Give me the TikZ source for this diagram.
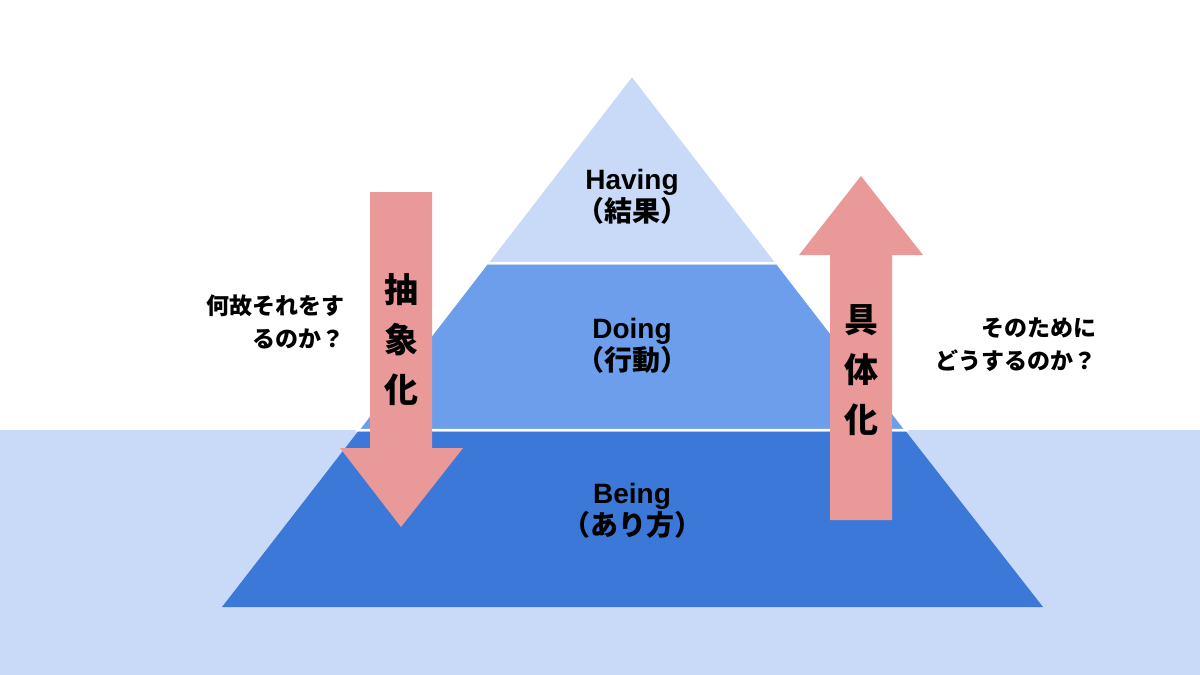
\documentclass[tikz,border=0pt]{standalone}
\usepackage{fontspec}
\setmainfont{Noto Sans CJK JP}
\newfontfamily\lat{Liberation Sans}
\definecolor{sea}{HTML}{C9DAF8}
\definecolor{tA}{HTML}{C9DAF8}
\definecolor{tB}{HTML}{6D9EEB}
\definecolor{tC}{HTML}{3C78D8}
\definecolor{arr}{HTML}{EA9999}
\begin{document}
\begin{tikzpicture}[x=1pt,y=-1pt,
  lbl/.style={font=\fontsize{28}{32}\selectfont\bfseries, align=center, inner sep=0},
  big/.style={font=\fontsize{34}{38}\selectfont\bfseries, inner sep=0},
  side/.style={font=\fontsize{23}{33}\selectfont\bfseries, inner sep=0},
  tier/.style={draw=white, line width=2.5pt}]
\useasboundingbox (0,0) rectangle (1200,675);
\fill[white] (0,0) rectangle (1200,675);
\fill[sea] (0,430) rectangle (1200,675);
\fill[tier, fill=tA] (632,75) -- (777,263) -- (487,263) -- cycle;
\fill[tier, fill=tB] (487,263) -- (777,263) -- (906,430) -- (358,430) -- cycle;
\draw[tier, fill=tB] (487,263) -- (777,263) -- (906,430) -- (358,430) -- cycle;
\draw[tier, fill=tA] (632,75) -- (777,263) -- (487,263) -- cycle;
\fill[tC] (358,431.5) -- (906,431.5) -- (1043,607) -- (222,607) -- cycle;
\draw[white, line width=2.5pt] (358,430) -- (906,430);
\fill[arr] (370,192) -- (432,192) -- (432,448) -- (463,448) -- (401,527) -- (340,448) -- (370,448) -- cycle;
\fill[arr] (830,520) -- (892,520) -- (892,255) -- (923,255) -- (861,176) -- (799,255) -- (830,255) -- cycle;
\node[lbl] (h) at (632,197) {{\lat Having}\\（結果）};
\node[lbl] (d) at (632,346) {{\lat Doing}\\（行動）};
\node[lbl] (b) at (632,511) {{\lat Being}\\（あり方）};
\node[big] (a1) at (401,290) {抽};
\node[big] (a2) at (401,340) {象};
\node[big] (a3) at (401,390) {化};
\node[big] (g1) at (861,320) {具};
\node[big] (g2) at (861,370) {体};
\node[big] (g3) at (861,420) {化};
\node[side, align=right, anchor=east] (q1) at (345,322) {何故それをす\\るのか？};
\node[side, align=right, anchor=east] (q2) at (1097,345) {そのために\\どうするのか？};
\end{tikzpicture}
\end{document}
